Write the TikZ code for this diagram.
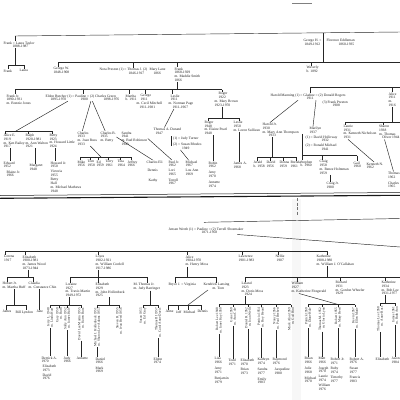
\documentclass[tikz,border=0pt]{standalone}
\usepackage{fontspec}
\setmainfont{Liberation Serif}
\tikzset{
  p/.style={anchor=north west, inner sep=0pt, outer sep=0.6pt, align=left, font=\fontsize{3.6}{3.75}\selectfont, text=black!88},
  vt/.style={rotate=90, anchor=east, inner sep=0pt, outer sep=0.6pt, align=right, font=\fontsize{3.4}{3.6}\selectfont, text=black!88},
  ln/.style={line width=0.45pt, draw=black!85},
}
\newcommand{\kdrop}[2]{\draw[ln] (#1) -- (#1 |- #2.north);}
\newcommand{\vdrop}[2]{\draw[ln] (#1) -- (#1 |- #2.east);}
\begin{document}
\begin{tikzpicture}[x=1pt,y=-1pt]
\useasboundingbox (0,0) rectangle (400,400);
\fill[white] (0,0) rectangle (400,400);
\clip (0,0) rectangle (400,400);
\fill[black!3] (292,199) rectangle (301,400);

% ================= TOP SECTION =================
\coordinate (fa) at (292,3); \coordinate (fb) at (312,3);
\draw[ln,draw=black!50] (fa) -- (fb);
\coordinate (t0L) at (15,36); \coordinate (t0R) at (400,32);
\draw[ln] (t0L) -- (t0R);
\coordinate (t0G) at (323,32.8);

\node[p] (flt) at (3,41) {Frank = Laura Taylor\\\hspace*{9pt}1888-1987};
\draw[ln] (t0L) -- (t0L |- flt.north);
\coordinate (b0L) at (8,65); \coordinate (b0R) at (24,65); \coordinate (b0M) at (15,65);
\draw[ln] (b0M |- flt.south) -- (b0M);
\draw[ln] (b0L) -- (b0R);
\node[p] (c0a) at (3,69) {Frank};
\node[p] (c0b) at (19,69) {Laura};
\kdrop{b0L}{c0a} \kdrop{b0R}{c0b}

% row 2 bar
\coordinate (b1L) at (58,62); \coordinate (b1R) at (400,62);
\draw[ln] (b1L) -- (b1R);
\coordinate (gB) at (323,62);
\draw[ln] (t0G) -- (gB);
\node[p] (geo) at (303,38.5) {George H. =\\\hspace*{1pt}1849-1912};
\node[p] (flo) at (326,38.5) {Florence Eddleman\\\hspace*{12pt}1860-1935};
\coordinate (dWav) at (311,62);
\node[p] (wav) at (306,65.5) {Waverly\\b. 1892};
\kdrop{dWav}{wav}

\node[p] (gw) at (53,67) {George W.\\1848-1908};
\kdrop{b1L}{gw}
\coordinate (d1b) at (133,62);
\node[p] (nora) at (99,67.5) {Nora Preston (1) = Thomas J. (2)\\\hspace*{29pt}1846-1917};
\kdrop{d1b}{nora}
\node[p] (mary) at (149,67.5) {Mary Lane\\\hspace*{4pt}1866};
\coordinate (d1c) at (177,62);
\node[p] (frk) at (174,67) {Frank\\1868-1929\\m. Maddie Smith\\1866};
\kdrop{d1c}{frk}

% row 3 bar
\coordinate (b2L) at (15,89.5); \coordinate (b2R) at (222,89.5);
\draw[ln] (b2L) -- (b2R);
\draw[ln] (d1c |- frk.south) -- (d1c |- b2L);

\node[p] (fj) at (6,94) {Frank Jr.\\1890-1931\\m. Bonnie Jones};
\kdrop{b2L}{fj}
\coordinate (d2b) at (83,89.5);
\node[p] (eld) at (45,94) {Eldon Butcher (1) = Pauline = (2) Charles Green};
\kdrop{d2b}{eld}
\node[p] (eldy) at (50,97.6) {1895-1970};
\node[p] (pauy) at (80,97.6) {1900};
\node[p] (chgy) at (103,97.6) {1898-1976};
\coordinate (d2c) at (129,89.5);
\node[p] (mar) at (125,94) {Martha\\b. 1911};
\kdrop{d2c}{mar}
\coordinate (d2d) at (145,89.5);
\node[p] (geo2) at (136,94) {\hspace*{4pt}George\\\hspace*{4pt}1911\\m. Cecil Mitchell\\\hspace*{3pt}1911-1981};
\kdrop{d2d}{geo2}
\coordinate (d2e) at (172,89.5);
\node[p] (les) at (168,94) {\hspace*{2pt}Leslie\\\hspace*{2pt}1911\\m. Norman Page\\\hspace*{4pt}1911-1967};
\kdrop{d2e}{les}
\node[p] (rog) at (214,91.8) {\hspace*{4pt}Roger\\\hspace*{4pt}1922\\m. Mary Brown\\1923-1970};
\kdrop{b2R}{rog}

\coordinate (b3L) at (310,87.5); \coordinate (b3R) at (400,87.5);
\draw[ln] (b3L) -- (b3R);
\node[p] (gla) at (270,93) {Harold Manning (1) = Gladine = (2) Donald Rogers};
\kdrop{b3L}{gla}
\node[p] (glay) at (306,96.6) {1911};
\node[p] (fpr) at (322,100) {(3) Frank Preston\\\hspace*{10pt}1908};
\coordinate (d3b) at (392,87.5);
\node[p] (alt) at (388,92) {Alice\\1911\\m.\\1916};
\kdrop{d3b}{alt}

% row 4 left
\coordinate (b4L) at (5,131); \coordinate (b4M) at (16,131); \coordinate (b4R) at (52,131);
\coordinate (d4b) at (28,131);
\draw[ln] (b4L) -- (b4R);
\draw[ln] ([xshift=1pt]eldy.south east) -- (b4M);
\node[p] (ale) at (3,133.5) {Alice E.\\1919\\m. Ken Bailey\\1917};
\kdrop{b4L}{ale}
\node[p] (ral) at (25,133.5) {Ralph\\1920-1981\\m. Ann Walton\\1921};
\kdrop{d4b}{ral}
\node[p] (bet) at (49,133.5) {Betty\\1923\\m. Howard Little\\1924};
\kdrop{b4R}{bet}

\node[p] (edw) at (3,161) {Edward\\1952};
\node[p] (bla) at (6,170) {Blaine Jr.\\1966};
\coordinate (xa) at (10,0);
\draw[ln] (xa |- ale.south) -- (xa |- edw.north);
\node[p] (mag) at (29,164) {Margaret\\1948};
\coordinate (xb) at (35,0);
\draw[ln] (xb |- ral.south) -- (xb |- mag.north);
\node[p] (hjr) at (50,161) {Howard Jr.\\1950};
\node[p] (vic) at (50,169.5) {Victoria\\1955};
\node[p] (bhl) at (50,178) {Betty\\Hall\\m. Michael Mathews\\1948};
\coordinate (xc) at (55,0);
\draw[ln] (xc |- bet.south) -- (xc |- hjr.north);

\node[p] (cha) at (77,131) {Charles\\1933\\m. Joan Russ\\1933};
\node[p] (chb) at (100,131) {Charles B.\\1935\\m. Betty};
\node[p] (san) at (121,131) {Sandra\\1941\\m. Bud Robinson\\1943};
\draw[ln] ([xshift=2.5pt]pauy.south east) -- ([xshift=-5pt]cha.north);
\draw[ln] ([xshift=4pt]pauy.south east) -- ([xshift=-3pt]chb.north);

\coordinate (b5L) at (80,157); \coordinate (b5R) at (131,157); \coordinate (b5M) at (101,157);
\draw[ln] (b5L) -- (b5R);
\draw[ln] ([xshift=3pt]cha.south) -- (b5M);
\coordinate (c2) at (90,157); \coordinate (c3) at (98,157); \coordinate (c4) at (108,157); \coordinate (c5) at (120,157);
\node[p] (ck1) at (77,160) {Mike\\1956};
\node[p] (ck2) at (87,160) {Tom\\1958};
\node[p] (ck3) at (96,160) {Ed\\1959};
\node[p] (ck4) at (105,160) {Terry\\1961};
\node[p] (ck5) at (117,160) {Tina\\1964};
\node[p] (ck6) at (127,160) {Jeffrey\\1966};
\kdrop{b5L}{ck1} \kdrop{c2}{ck2} \kdrop{c3}{ck3} \kdrop{c4}{ck4} \kdrop{c5}{ck5} \kdrop{b5R}{ck6}

\node[p] (cel) at (146,160) {Charles Eli};
\node[p] (den) at (147,169) {Dennis};
\node[p] (kat) at (148,178) {Kathy};
\draw[ln] (chb.east) -- ([xshift=-2pt]cel.north);
\node[p] (pj) at (168,160) {Paul Jr.\\1962};
\node[p] (lor) at (168,169) {Lori\\1965};
\node[p] (ter) at (168,178) {Terrell\\1967};
\draw[ln] (san.east) -- ([xshift=-2pt]pj.north);

\node[p] (tad) at (153,127.5) {Thomas A. Durand\\\hspace*{2pt}1947};
\draw[ln] ([xshift=-7pt]les.south) -- ([xshift=-3pt]tad.north);
\node[p] (spj) at (172.5,136) {(1) = Judy Turner};
\node[p] (sps) at (172.5,142.5) {(2) = Susan Rhodes\\\hspace*{9pt}1949};
\draw[ln] ([xshift=-1pt]spj.north west) -- ([xshift=-1pt,yshift=-3.5pt]sps.north west);
\node[p] (mic) at (185,160) {Michael\\1967};
\node[p] (lou) at (185,169) {Lou Ann\\1969};
\draw[ln] ([xshift=8pt]sps.south west) -- ([xshift=-3pt]mic.north);

% row 4 right
\coordinate (b6L) at (208,118); \coordinate (b6R) at (239,118); \coordinate (b6M) at (222,118);
\draw[ln] (b6L) -- (b6R);
\draw[ln] (b6M |- rog.south) -- (b6M);
\node[p] (rg2) at (204,120.5) {Roger\\1948\\m. Elaine Pearl\\1948};
\kdrop{b6L}{rg2}
\node[p] (ls2) at (233,120.5) {Leslie\\1950\\m. Loren Sullivan};
\kdrop{b6R}{ls2}
\node[p] (rob) at (208,161) {Robin\\1962};
\node[p] (amy) at (208,171) {Amy\\1970};
\node[p] (ann) at (208,181) {Annette\\1974};
\coordinate (xr) at (213,0);
\draw[ln] (xr |- rg2.south) -- (xr |- rob.north);
\node[p] (jam) at (233,162) {James A.\\1968};
\coordinate (xl) at (239,0);
\draw[ln] (xl |- ls2.south) -- (xl |- jam.north);

\node[p] (har) at (262,122.5) {Harold Jr.\\1930\\m. Mary Ann Thompson\\\hspace*{6pt}1933};
\node[p] (mrl) at (309,126.5) {Marilyn\\1937};
\draw[ln] ([xshift=-8pt]glay.south west) -- ([xshift=8pt]har.north west);
\draw[ln] ([xshift=10pt]glay.south west) -- ([xshift=4pt]mrl.north west);

\coordinate (b7L) at (257,157); \coordinate (b7R) at (296,157); \coordinate (xh) at (272,0);
\draw[ln] (b7L) -- (b7R);
\draw[ln] (xh |- har.south) -- (xh |- b7L);
\coordinate (h2) at (270,157); \coordinate (h3) at (283,157);
\node[p] (hk1) at (253,160.5) {Jerald\\b. 1958};
\node[p] (hk2) at (266,160.5) {David\\1956};
\node[p] (hk3) at (279,160.5) {Donna\\1959};
\node[p] (hk4) at (290,160.5) {Brenda\\1961};
\kdrop{b7L}{hk1} \kdrop{h2}{hk2} \kdrop{h3}{hk3} \kdrop{b7R}{hk4}

\node[p] (hol) at (305,135) {(1) = David Holloway\\\hspace*{16pt}1932};
\node[p] (rmi) at (305,143.5) {(2) = Ronald Michael\\\hspace*{16pt}1941};
\coordinate (b8L) at (302,155.5); \coordinate (b8R) at (357,155.5); \coordinate (b8C) at (322,155.5);
\draw[ln] (b8L) -- (b8R);
\draw[ln] (b8L |- mrl.south) -- (b8L);
\node[p] (stp) at (300,160) {Stephen\\b. 1960};
\node[p] (crg) at (319,160) {Craig\\1958\\m. Renee Holtzman\\1959};
\node[p] (gai) at (353,161) {Gail\\1960};
\kdrop{b8L}{stp} \kdrop{b8C}{crg} \kdrop{b8R}{gai}
\node[p] (crj) at (326,181.5) {Craig Jr.\\1980};
\coordinate (xcj) at (330,0);
\draw[ln] (xcj |- crg.south) -- (xcj |- crj.north);

\coordinate (b9L) at (345,122); \coordinate (b9R) at (400,122);
\coordinate (b9A) at (392,122); \coordinate (b9S) at (383,122);
\draw[ln] (b9L) -- (b9R);
\draw[ln] (b9A |- alt.south) -- (b9A);
\node[p] (lau) at (343,124.5) {Laurie\\1931\\m. Kenneth Nicholson\\1931};
\kdrop{b9L}{lau}
\node[p] (sha) at (378.5,124.5) {Sharon\\1938\\m. Thomas\\\hspace*{3pt}Oliver 1944};
\kdrop{b9S}{sha}
\node[p] (ken) at (366,162) {Kenneth N.\\1962};
\draw[ln] ([xshift=5pt]lau.south west) -- ([xshift=8pt]ken.north west);
\node[p] (tho) at (387.5,171.5) {Thomas\\1962};
\node[p] (chr) at (387.5,181) {Charles\\1965};
\draw[ln] ([xshift=6pt]sha.south west) -- ([xshift=6pt]tho.north west);

% ================= SEPARATOR =================
\coordinate (s1L) at (0,195.5); \coordinate (s1R) at (400,192.5);
\coordinate (s2L) at (0,198.3); \coordinate (s2R) at (400,195.3);
\draw[line width=0.5pt, black!90] (s1L) -- (s1R);
\draw[line width=1.1pt, black!90] (s2L) -- (s2R);
\coordinate (g1) at (297,198); \coordinate (g2) at (297,216);
\draw[ln, draw=black!55, dash pattern=on 3pt off 1.5pt] (g1) -- (g2);

% ================= BOTTOM SECTION =================
\node[p] (jw) at (168,227) {Jensen Wroth (1) = Pauline = (2) Terrell Shoemaker\\\hspace*{33pt}1871-1958};
\coordinate (pl) at (204,222.3); \coordinate (pr) at (400,218.5);
\draw[ln] (pl) -- (pr);
\coordinate (dr) at (400,247);
\draw[ln] ([xshift=-7pt]jw.south east) -- (dr);

\coordinate (mbL) at (5,251); \coordinate (mbR) at (327,251);
\draw[ln] (mbL) -- (mbR);
\node[p] (lrn) at (3.5,255) {Lorena\\1917};
\kdrop{mbL}{lrn}
\coordinate (m2) at (25,251);
\node[p] (elz) at (22,255) {Elizabeth\\1900-1981\\m. James Wood\\1873-1944};
\kdrop{m2}{elz}
\coordinate (m3) at (98,251);
\node[p] (loy) at (95,255) {Loyes\\1902-1921\\m. William Cordell\\1917-1986};
\kdrop{m3}{loy}
\coordinate (m4) at (187,251);
\node[p] (alb) at (185,255) {Alice\\1904-1970\\m. Henry Moss};
\kdrop{m4}{alb}
\coordinate (m5) at (242,251);
\node[p] (law) at (238,255) {Lawrence\\1901-1983};
\kdrop{m5}{law}
\coordinate (m6) at (278,251);
\node[p] (nel) at (275,254.5) {Nellie\\\hspace*{1pt}1907};
\kdrop{m6}{nel}
\node[p] (kth) at (316,254.5) {Katherine\\1908-1980\\m. William J. O'Callahan};
\kdrop{mbR}{kth}

% Elizabeth
\coordinate (eb1) at (7,277); \coordinate (eb2) at (33,277); \coordinate (xe) at (28,0);
\draw[ln] (eb1) -- (eb2);
\draw[ln] (xe |- elz.south) -- (xe |- eb1);
\node[p] (hob) at (2,281.5) {Hobert Jr.\\m. Martha Huff};
\kdrop{eb1}{hob}
\node[p] (cla) at (28,281.5) {Claudia\\m. Constance Chin};
\kdrop{eb2}{cla}
\coordinate (hb1) at (6,305); \coordinate (hb2) at (26,305); \coordinate (xhb) at (14,0);
\draw[ln] (hb1) -- (hb2);
\draw[ln] (xhb |- hob.south) -- (xhb |- hb1);
\node[p] (jmz) at (2,310) {James};
\node[p] (bil) at (15,310) {Bill Lyndon};
\kdrop{hb1}{jmz} \kdrop{hb2}{bil}
\node[p] (jan) at (36,310) {Jane};
\coordinate (xcl) at (39,0);
\draw[ln] (xcl |- cla.south) -- (xcl |- jan.north);

% Loyes
\coordinate (lb1) at (70,277); \coordinate (lb3) at (147,277);
\draw[ln] (lb1) -- (lb3);
\draw[ln] (m3 |- loy.south) -- (m3 |- lb1);
\node[p] (lra) at (65,282.5) {Loraine\\1927\\m. Travis Martin\\1949-1972};
\kdrop{lb1}{lra}
\node[p] (el2) at (95,282.5) {Elizabeth\\1929\\m. John Hollenbeck\\1925};
\draw[ln] (m3 |- lb1) -- (m3 |- el2.north);
\node[p] (tjr) at (133,282.5) {M. Thomas Jr.\\m. Judy Barringer};
\kdrop{lb3}{tjr}

\coordinate (rb1) at (50,305); \coordinate (rb2) at (59,305); \coordinate (rb3) at (67,305); \coordinate (rb4) at (81,305);
\coordinate (xlr) at (69,0);
\draw[ln] (rb1) -- (rb4);
\draw[ln] (xlr |- lra.south) -- (xlr |- rb1);
\node[vt] (lk1) at (50,307.5) {Jerry L. 1948\\m. Linda Hart};
\node[vt] (lk2) at (59,307.5) {Gary 1950\\m. Ruth};
\node[vt] (lk3) at (67,307.5) {Sally Ann 1952\\m. James Hale};
\node[vt] (lk4) at (81,307.5) {David Lee Martin 1955\\m. Karen Russ};
\vdrop{rb1}{lk1} \vdrop{rb2}{lk2} \vdrop{rb3}{lk3} \vdrop{rb4}{lk4}
\node[p] (g1a) at (41,356) {Derrick A.\\1970};
\node[p] (g1b) at (42,364.5) {Elizabeth\\1973};
\node[p] (g1c) at (42,373) {David\\1976};
\draw[ln] (lk1.west) -- (lk1.west |- g1a.north);
\node[p] (g3a) at (63,356) {Judy\\1966};
\draw[ln] (lk3.west) -- (lk3.west |- g3a.north);
\node[p] (g4a) at (76,357) {Annette};
\draw[ln] (lk4.west) -- (lk4.west |- g4a.north);

\coordinate (qb1) at (97,305); \coordinate (qb2) at (119,305); \coordinate (xq) at (109,0);
\draw[ln] (qb1) -- (qb2);
\draw[ln] (xq |- el2.south) -- (xq |- qb1);
\node[vt] (ek1) at (97,307.5) {Michael J. Hollenbeck 1951\\m. Sharon Lee Adams 1953};
\node[vt] (ek2) at (119,307.5) {Steven R. 1955\\m. Jean Reed 1956};
\vdrop{qb1}{ek1} \vdrop{qb2}{ek2}
\node[p] (g5a) at (95,357) {Daniel\\1966};
\node[p] (g5b) at (95,366) {Mark\\1969};
\draw[ln] (ek1.west) -- (ek1.west |- g5a.north);

\coordinate (tb1) at (143,305); \coordinate (tb2) at (158,305); \coordinate (xt) at (150,0);
\draw[ln] (tb1) -- (tb2);
\draw[ln] (xt |- tjr.south) -- (xt |- tb1);
\node[vt] (tk1) at (143,307.5) {Susan 1955\\m. Ed Gray};
\node[vt] (tk2) at (158,307.5) {Thomas III 1957\\m. Carol Anne Davis};
\vdrop{tb1}{tk1} \vdrop{tb2}{tk2}
\node[p] (g6a) at (153,357) {Eldon\\1974};
\draw[ln] (tk2.west) -- (tk2.west |- g6a.north);

% Alice
\coordinate (ab1) at (175,277); \coordinate (ab2) at (216,277);
\draw[ln] (ab1) -- (ab2);
\draw[ln] (m4 |- alb.south) -- (m4 |- ab1);
\node[p] (bry) at (168,282.5) {Bryce J. = Virginia};
\kdrop{ab1}{bry}
\node[p] (ken2) at (203,282.5) {Kendrick Lansing\\\hspace*{9pt}m. Tom};
\kdrop{ab2}{ken2}
\coordinate (yb1) at (168,305); \coordinate (yb2) at (178,305); \coordinate (yb3) at (188,305); \coordinate (yb4) at (201,305);
\draw[ln] (yb1) -- (yb4);
\draw[ln] ([xshift=5pt]ken2.south west) -- (yb3);
\node[p] (an) at (165,310) {Anne};
\node[p] (je) at (175.5,310) {Jeff};
\node[p] (mi) at (183,310) {Michael};
\node[p] (de) at (197,310) {Dennis};
\kdrop{yb1}{an} \kdrop{yb2}{je} \kdrop{yb3}{mi} \kdrop{yb4}{de}

% right bottom
\coordinate (rbL) at (245,277); \coordinate (rbR) at (400,277);
\draw[ln] (rbL) -- (rbR);
\coordinate (xk) at (327,0);
\draw[ln] (xk |- kth.south) -- (xk |- rbL);
\node[p] (lel) at (241,281.5) {Leland\\1923\\m. Doris Moss\\\hspace*{3pt}1924};
\kdrop{rbL}{lel}
\coordinate (rw) at (297,277);
\node[p] (wil) at (291,281.5) {William\\1927\\m. Katherine Fitzgerald};
\kdrop{rw}{wil}
\coordinate (rr) at (340,277);
\node[p] (ric) at (335,280.5) {Richard\\1931\\m. Gordon Wheeler\\1929};
\kdrop{rr}{ric}
\coordinate (rk) at (385,277);
\node[p] (ka2) at (381,280.5) {Katherine\\1934\\m. Bob Lee\\1931-1977};
\kdrop{rk}{ka2}

% Leland kids
\coordinate (lk0) at (245,0);
\coordinate (nb1) at (219,304.5); \coordinate (nb2) at (233,304.5); \coordinate (nb3) at (248,304.5);
\coordinate (nb4) at (261,304.5); \coordinate (nb5) at (276,304.5); \coordinate (nb6) at (291,304.5);
\draw[ln] (nb1) -- (nb6);
\draw[ln] (lk0 |- lel.south) -- (lk0 |- nb1);
\node[vt] (le1) at (219,307) {Robert Lee 1948\\m. Janet Kay 1950};
\node[vt] (le2) at (233,307) {Gene 1950\\m. Ann Cole};
\node[vt] (le3) at (248,307) {Daniel R. 1952\\m. Joan Wells};
\node[vt] (le4) at (261,307) {Patricia 1954\\m. Roy Heard};
\node[vt] (le5) at (276,307) {Nancy 1956\\m. Paul Beckett};
\node[vt] (le6) at (291,307) {Mark Alan 1959\\m. Gail Bird};
\vdrop{nb1}{le1} \vdrop{nb2}{le2} \vdrop{nb3}{le3} \vdrop{nb4}{le4} \vdrop{nb5}{le5} \vdrop{nb6}{le6}
\node[p] (q1a) at (214,357) {Lisa\\1966};
\node[p] (q1b) at (214,367) {Amy\\1971};
\node[p] (q1c) at (214,377) {Benjamin\\1979};
\draw[ln] (le1.west) -- (le1.west |- q1a.north);
\node[p] (q2a) at (228,358.5) {Todd\\1971};
\draw[ln] (le2.west) -- (le2.west |- q2a.north);
\node[p] (q3a) at (240,358.5) {Elizabeth\\1970};
\node[p] (q3b) at (240,368) {Brian\\1973};
\draw[ln] (le3.west) -- (le3.west |- q3a.north);
\node[p] (q4a) at (257,357.5) {Kathryn\\1974};
\node[p] (q4b) at (257,367.5) {Sandra\\1977};
\node[p] (q4c) at (257,377) {Emily\\1983};
\draw[ln] (le4.west) -- (le4.west |- q4a.north);
\node[p] (q5a) at (272,357.5) {Raymond\\1976};
\node[p] (q5b) at (274,367.5) {Jacqueline\\1980};
\draw[ln] (le5.west) -- (le5.west |- q5a.north);

% William kids
\coordinate (wb1) at (308,304.5); \coordinate (wb2) at (322,304.5); \coordinate (wb3) at (338,304.5); \coordinate (wb4) at (355,304.5);
\draw[ln] (wb1) -- (wb4);
\draw[ln] ([xshift=8pt]wil.south west) -- (wb3);
\node[vt] (wk1) at (308,307) {Patrick 1950\\m. Diane Hale};
\node[vt] (wk2) at (322,307) {Thomas M. 1952\\m. Gloria Lynn};
\node[vt] (wk3) at (338,307) {Robert 1955\\m. Mary Reed};
\node[vt] (wk4) at (355,307) {Kevin 1957\\m. Ellen Marie};
\vdrop{wb1}{wk1} \vdrop{wb2}{wk2} \vdrop{wb3}{wk3} \vdrop{wb4}{wk4}
\node[p] (r1a) at (304,357) {Brian\\1966};
\node[p] (r1b) at (304,366.5) {Julie\\1968};
\node[p] (r1c) at (304,376) {Michael\\1970};
\draw[ln] (wk1.west) -- (wk1.west |- r1a.north);
\node[p] (r2a) at (318,357) {Matt\\1966};
\node[p] (r2b) at (318,366) {Joseph\\1970};
\node[p] (r2c) at (318,375) {Laurie\\1974};
\node[p] (r2d) at (318,383.5) {William\\1976};
\draw[ln] (wk2.west) -- (wk2.west |- r2a.north);
\node[p] (r3a) at (330,357.5) {Robert Jr.\\1971};
\node[p] (r3b) at (330,366.5) {Ruby\\1974};
\node[p] (r3c) at (330,375.5) {Timothy\\1977};
\draw[ln] (wk3.west) -- (wk3.west |- r3a.north);
\node[p] (r4a) at (349,357) {Robert A.\\1976};
\node[p] (r4b) at (349,366.5) {Susan\\1977};
\node[p] (r4c) at (349,376) {Francis\\1983};
\draw[ln] (wk4.west) -- (wk4.west |- r4a.north);

% Katherine kids
\coordinate (kb1) at (380,303); \coordinate (kb2) at (395,303); \coordinate (kbM) at (385,303);
\draw[ln] (kb1) -- (kb2);
\draw[ln] (kbM |- ka2.south) -- (kbM);
\node[vt] (kk1) at (380,306) {Thomas Lee 1958\\m. Anne Ross};
\node[vt] (kk2) at (395,306) {James 1961\\m. Ruth Ann};
\vdrop{kb1}{kk1} \vdrop{kb2}{kk2}
\node[p] (s1a) at (375,357) {Elizabeth};
\draw[ln] (kk1.west) -- (kk1.west |- s1a.north);
\node[p] (s2a) at (391,357) {Jason\\1984};
\draw[ln] (kk2.west) -- (kk2.west |- s2a.north);
\end{tikzpicture}
\end{document}
